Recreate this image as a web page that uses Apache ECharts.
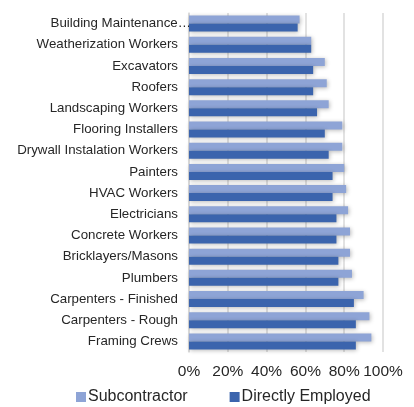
<!DOCTYPE html>
<html>
<head>
<meta charset="utf-8">
<script src="https://cdn.jsdelivr.net/npm/echarts@6/dist/echarts.min.js"></script>
<style>
  html, body { margin: 0; padding: 0; background: #ffffff; }
  #chart { width: 414px; height: 407px; }
</style>
</head>
<body>
<div id="chart"></div>
<script>
// Trades, listed top to bottom
const categories = [
  'Building Maintenance Workers',
  'Weatherization Workers',
  'Excavators',
  'Roofers',
  'Landscaping Workers',
  'Flooring Installers',
  'Drywall Instalation Workers',
  'Painters',
  'HVAC Workers',
  'Electricians',
  'Concrete Workers',
  'Bricklayers/Masons',
  'Plumbers',
  'Carpenters - Finished',
  'Carpenters - Rough',
  'Framing Crews'
];

// Share of each trade, in percent
const subcontractor = [57, 63, 70, 71, 72, 79, 79, 80, 81, 82, 83, 83, 84, 90, 93, 94];
const directlyEmployed = [56, 63, 64, 64, 66, 70, 72, 74, 74, 76, 76, 77, 77, 85, 86, 86];

const seriesNames = ['Subcontractor', 'Directly Employed'];
const xTicks = [0, 20, 40, 60, 80, 100];

const chart = echarts.init(document.getElementById('chart'), null, { renderer: 'canvas' });

const font = '"Liberation Sans", Arial, sans-serif';
const barShadow = {
  shadowBlur: 4,
  shadowOffsetX: 1,
  shadowOffsetY: 1,
  shadowColor: 'rgba(0,0,0,0.28)'
};

// Names that do not fit beside the axis keep their first two words and an ellipsis,
// and that shortened text runs a little past the axis line.
const maxLabelChars = 27;
function categoryLabel(name) {
  if (name.length <= maxLabelChars) return name;
  const short = name.split(' ').slice(0, 2).join(' ') + '…';
  return '{long|' + short + '}';
}

chart.setOption({
  animation: false,
  backgroundColor: '#ffffff',
  grid: { left: 189, right: 31, top: 13, bottom: 55, containLabel: false },
  legend: {
    data: seriesNames,
    top: 389,
    left: 76,
    padding: 0,
    itemWidth: 10,
    itemHeight: 10,
    itemGap: 42,
    icon: 'rect',
    textStyle: { fontFamily: font, fontSize: 16, color: '#262626', padding: [0, 0, 0, -3] }
  },
  xAxis: {
    type: 'value',
    min: xTicks[0],
    max: xTicks[xTicks.length - 1],
    interval: xTicks[1] - xTicks[0],
    axisLine: { show: false },
    axisTick: { show: false },
    splitLine: { show: true, lineStyle: { color: '#d9d9d9', width: 1.5 } },
    axisLabel: {
      formatter: v => v + '%',
      fontFamily: font,
      fontSize: 15.5,
      color: '#262626',
      margin: 12
    }
  },
  yAxis: {
    type: 'category',
    data: categories,
    inverse: true,
    axisLine: { show: true, lineStyle: { color: '#d9d9d9', width: 1.5 } },
    axisTick: { show: false },
    axisLabel: {
      fontFamily: font,
      fontSize: 13.3,
      color: '#262626',
      margin: 11,
      formatter: categoryLabel,
      rich: {
        long: {
          fontFamily: font,
          fontSize: 13.3,
          color: '#262626',
          padding: [0, -13, 0, 0]
        }
      }
    }
  },
  series: [
    {
      name: seriesNames[0],
      type: 'bar',
      data: subcontractor,
      barWidth: 8,
      barGap: '0%',
      itemStyle: Object.assign({ color: '#8ea4d6' }, barShadow)
    },
    {
      name: seriesNames[1],
      type: 'bar',
      data: directlyEmployed,
      barWidth: 8,
      barGap: '0%',
      itemStyle: Object.assign({ color: '#3b64ad' }, barShadow)
    }
  ]
});
</script>
</body>
</html>
